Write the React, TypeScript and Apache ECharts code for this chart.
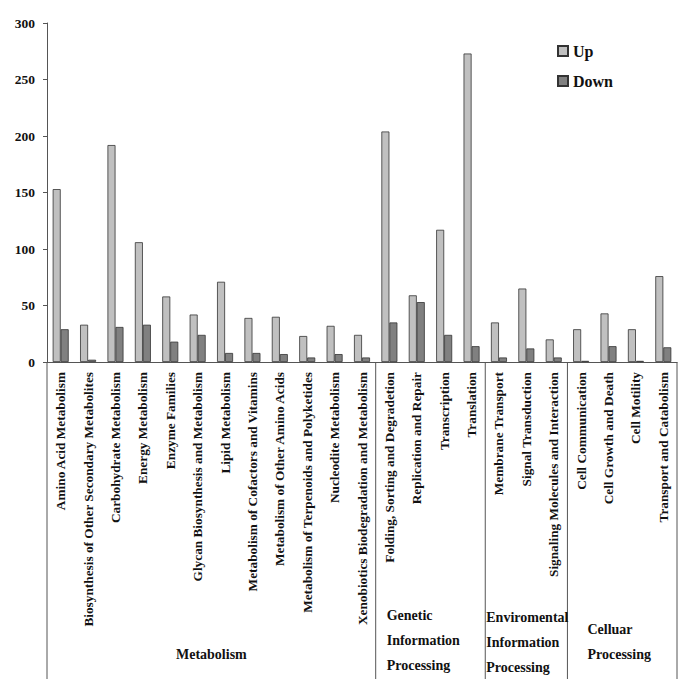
import React, { useEffect, useRef } from "react";
import * as echarts from "echarts";

const categories = [
  "Amino Acid Metabolism",
  "Biosynthesis of Other Secondary Metabolites",
  "Carbohydrate Metabolism",
  "Energy Metabolism",
  "Enzyme Families",
  "Glycan Biosynthesis and Metabolism",
  "Lipid Metabolism",
  "Metabolism of Cofactors and Vitamins",
  "Metabolism of Other Amino Acids",
  "Metabolism of Terpenoids and Polyketides",
  "Nucleodite Metabolism",
  "Xenobiotics Biodegradation and Metabolism",
  "Folding, Sorting and Degradetion",
  "Replication and Repair",
  "Transcription",
  "Translation",
  "Membrane Transport",
  "Signal Transduction",
  "Signaling Molecules and Interaction",
  "Cell Communication",
  "Cell Growth and Death",
  "Cell Motility",
  "Transport and Catabolism",
];

const upValues = [153, 33, 192, 106, 58, 42, 71, 39, 40, 23, 32, 24, 204, 59, 117, 273, 35, 65, 20, 29, 43, 29, 76];
const downValues = [29, 2, 31, 33, 18, 24, 8, 8, 7, 4, 7, 4, 35, 53, 24, 14, 4, 12, 4, 1, 14, 1, 13];

const groupSizes = [12, 4, 3, 4];
const groupLabels = [
  ["Metabolism"],
  ["Genetic", "Information", "Processing"],
  ["Enviromental", "Information", "Processing"],
  ["Celluar", "Processing"],
];

const yTicks = [0, 50, 100, 150, 200, 250, 300];

const FONT = "'Liberation Serif', 'Times New Roman', serif";

export default function App() {
  const ref = useRef<HTMLDivElement>(null);
  useEffect(() => {
    if (!ref.current) return;
    const chart = echarts.init(ref.current, null, { renderer: "svg" });
    chart.setOption({
      animation: false,
      backgroundColor: "#ffffff",
      grid: { left: 47, right: 8, top: 23, bottom: 323, containLabel: false },
      legend: {
        data: ["Up", "Down"],
        orient: "vertical",
        left: 552,
        top: 38,
        itemWidth: 10,
        itemHeight: 10,
        itemGap: 14,
        icon: "rect",
        textStyle: { fontFamily: FONT, fontWeight: "bold", fontSize: 16, color: "#111" },
      },
      xAxis: {
        type: "category",
        data: categories,
        axisLine: { show: true, lineStyle: { color: "#555", width: 1 } },
        axisTick: { show: false },
        axisLabel: {
          rotate: 90,
          interval: 0,
          margin: 10,
          fontFamily: FONT,
          fontWeight: "bold",
          fontSize: 13.3,
          color: "#111",
        },
      },
      yAxis: {
        type: "value",
        min: yTicks[0],
        max: yTicks[yTicks.length - 1],
        interval: 50,
        splitLine: { show: false },
        axisLine: { show: true, lineStyle: { color: "#555", width: 1 } },
        axisTick: { show: true, length: 4, lineStyle: { color: "#555" } },
        axisLabel: {
          margin: 12,
          fontFamily: FONT,
          fontWeight: "bold",
          fontSize: 13.5,
          color: "#111",
        },
      },
      series: [
        {
          name: "Up",
          type: "bar",
          data: upValues,
          barWidth: 8,
          barGap: "0%",
          itemStyle: { color: "#c0c0c0", borderColor: "#333", borderWidth: 0.8 },
        },
        {
          name: "Down",
          type: "bar",
          data: downValues,
          barWidth: 8,
          barGap: "0%",
          itemStyle: { color: "#808080", borderColor: "#333", borderWidth: 0.8 },
        },
      ],
    });

    // group separators and labels, positioned through the axes
    const px = (i: number) => chart.convertToPixel({ xAxisIndex: 0 }, i) as number;
    const step = px(1) - px(0);
    const yZero = chart.convertToPixel({ yAxisIndex: 0 }, 0) as number;
    const bottomY = 679;
    const boundaries: number[] = [px(0) - step / 2];
    let acc = 0;
    groupSizes.forEach((n) => {
      acc += n;
      boundaries.push(px(acc - 1) + step / 2);
    });
    const graphics: any[] = [];
    boundaries.forEach((bx) => {
      graphics.push({
        type: "line",
        shape: { x1: bx, y1: yZero, x2: bx, y2: bottomY },
        style: { stroke: "#555", lineWidth: 1 },
      });
    });
    const lineH = 25;
    groupLabels.forEach((lines, gi) => {
      const x0 = boundaries[gi];
      const x1 = boundaries[gi + 1];
      let anchorX: number;
      let align: string;
      let topY: number;
      if (gi === 0) {
        anchorX = (x0 + x1) / 2;
        align = "center";
        topY = 654;
      } else if (gi === 1) {
        anchorX = x0 + 11;
        align = "left";
        topY = 615;
      } else if (gi === 2) {
        anchorX = x0 + 1;
        align = "left";
        topY = 617;
      } else {
        anchorX = x0 + 20;
        align = "left";
        topY = 629;
      }
      lines.forEach((t, li) => {
        graphics.push({
          type: "text",
          x: anchorX,
          y: topY + li * lineH,
          style: {
            text: t,
            align,
            verticalAlign: "middle",
            fontFamily: FONT,
            fontWeight: "bold",
            fontSize: 14,
            fill: "#111",
          },
        });
      });
    });
    chart.setOption({ graphic: graphics });
    return () => chart.dispose();
  }, []);
  return <div ref={ref} style={{ width: 685, height: 685, position: "absolute", left: 0, top: 0 }} />;
}
